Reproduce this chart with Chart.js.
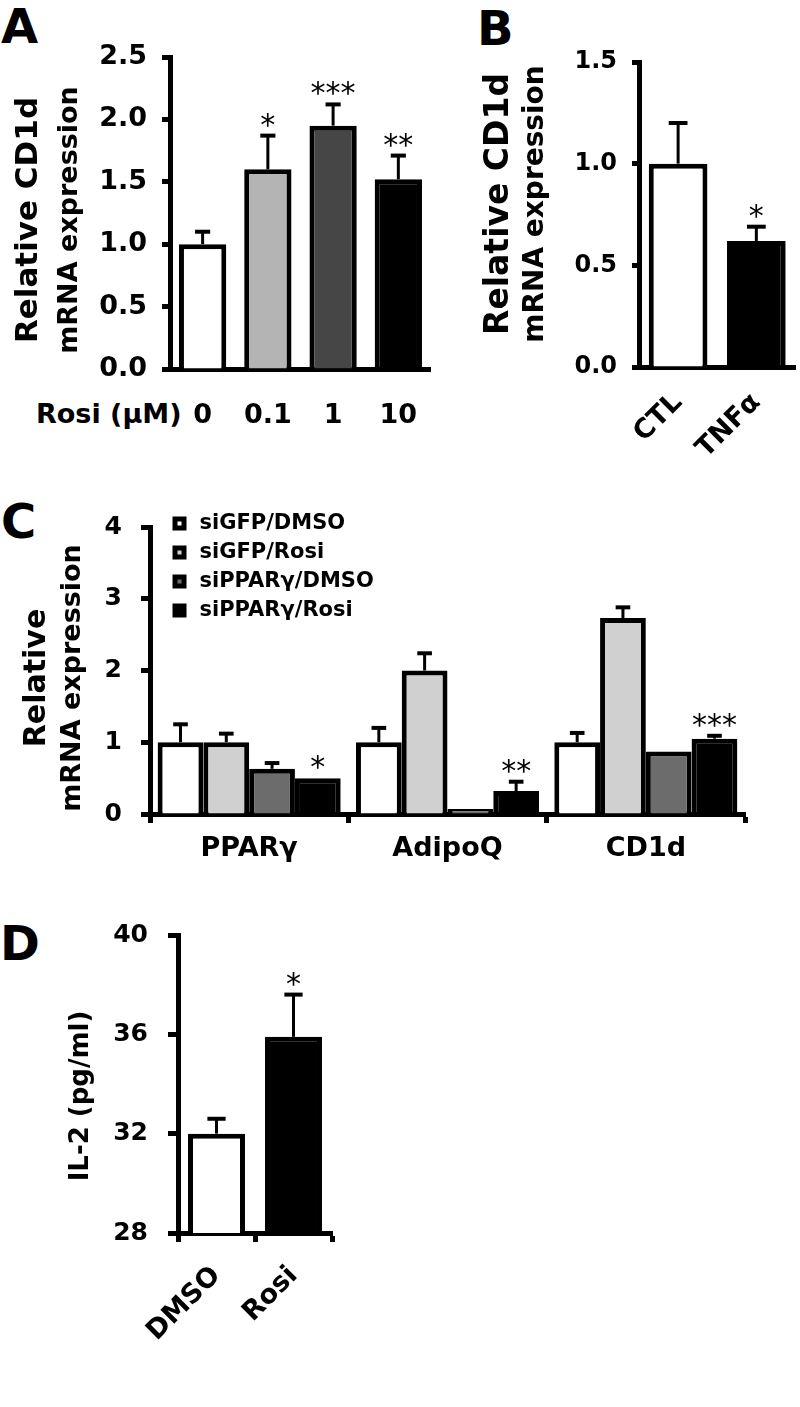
<!DOCTYPE html>
<html>
<head>
<meta charset="utf-8">
<script src="https://cdn.jsdelivr.net/npm/chart.js@4.4.1/dist/chart.umd.min.js"></script>
<style>
  body { margin: 0; background: #fff; }
  #fig { position: relative; width: 800px; height: 1407px; overflow: hidden; font-family: "DejaVu Sans", sans-serif; }
  canvas { position: absolute; }
  .letter { position: absolute; font-weight: bold; font-size: 48px; line-height: 1; }
  .note { position: absolute; font-weight: bold; font-size: 27px; line-height: 1; white-space: nowrap; }
</style>
</head>
<body>
<div id="fig">
  <div class="letter" style="left:1px;top:2px">A</div>
  <div class="letter" style="left:477px;top:4px">B</div>
  <div class="letter" style="left:1px;top:497px">C</div>
  <div class="letter" style="left:0px;top:919px">D</div>
  <div class="note" style="left:36px;top:400px">Rosi (μM)</div>
  <canvas id="chartA" style="left:0;top:0" width="450" height="440"></canvas>
  <canvas id="chartB" style="left:420px;top:0" width="380" height="470"></canvas>
  <canvas id="chartC" style="left:0;top:480px" width="800" height="390"></canvas>
  <canvas id="chartD" style="left:0;top:900px" width="400" height="507"></canvas>
</div>
<script>
// A: CD1d vs rosiglitazone dose
const doseLabels = ["0", "0.1", "1", "10"];
const doseValues = [1.0, 1.6, 1.95, 1.52];
const doseErrors = [0.1, 0.27, 0.17, 0.19];
const doseStars = [0, 1, 3, 2];

// B: CTL vs TNFa
const tnfLabels = ["CTL", "TNFα"];
const tnfValues = [1.0, 0.62];
const tnfErrors = [0.2, 0.07];
const tnfStars = [0, 1];

// C: knockdown
const geneLabels = ["PPARγ", "AdipoQ", "CD1d"];
const groupNames = ["siGFP/DMSO", "siGFP/Rosi", "siPPARγ/DMSO", "siPPARγ/Rosi"];
const gfpDmso = [1.0, 1.0, 1.0];
const gfpDmsoErr = [0.25, 0.2, 0.13];
const gfpRosi = [1.0, 2.0, 2.73];
const gfpRosiErr = [0.12, 0.24, 0.15];
const pparDmso = [0.63, 0.07, 0.87];
const pparDmsoErr = [0.08, 0, 0];
const pparRosi = [0.5, 0.32, 1.05];
const pparRosiErr = [0, 0.13, 0.04];
const pparRosiStars = [1, 2, 3];

// D: IL-2
const il2Labels = ["DMSO", "Rosi"];
const il2Values = [32.0, 35.9];
const il2Errors = [0.6, 1.7];
const il2Stars = [0, 1];

const FONT = "'DejaVu Sans', sans-serif";
const bold = (size) => ({ family: FONT, size: size, weight: "bold" });

// error bars + significance stars drawn on top of the bars
const errorBars = {
  id: "errorBars",
  afterDatasetsDraw(chart) {
    const ctx = chart.ctx;
    const y = chart.scales.y;
    chart.data.datasets.forEach((ds, i) => {
      chart.getDatasetMeta(i).data.forEach((bar, j) => {
        const err = ds.errors[j];
        const top = y.getPixelForValue(ds.data[j] + err);
        ctx.save();
        ctx.strokeStyle = "#000";
        ctx.fillStyle = "#000";
        if (err > 0) {
          const half = bar.width * 0.16;
          ctx.lineWidth = 3;
          ctx.beginPath();
          ctx.moveTo(bar.x, bar.y);
          ctx.lineTo(bar.x, top);
          ctx.stroke();
          ctx.lineWidth = 4;
          ctx.beginPath();
          ctx.moveTo(bar.x - half, top);
          ctx.lineTo(bar.x + half, top);
          ctx.stroke();
        }
        const n = ds.stars ? ds.stars[j] : 0;
        ctx.font = `30px ${FONT}`;
        ctx.textAlign = "center";
        for (let s = 0; s < n; s++) {
          ctx.fillText("*", bar.x + (s - (n - 1) / 2) * 15, top - 1);
        }
        ctx.restore();
      });
    });
  },
};

// two-line rotated y title, each line with its own size
function yTitle(lines, centerY) {
  return {
    id: "yTitle",
    afterDraw(chart) {
      const ctx = chart.ctx;
      lines.forEach(([text, size, x]) => {
        ctx.save();
        ctx.translate(x, centerY);
        ctx.rotate(-Math.PI / 2);
        ctx.font = `bold ${size}px ${FONT}`;
        ctx.fillStyle = "#000";
        ctx.textAlign = "center";
        ctx.textBaseline = "alphabetic";
        ctx.fillText(text, 0, 0);
        ctx.restore();
      });
    },
  };
}

function yAxis(min, max, step, size, tickLen, pad, width, digits) {
  return {
    min: min,
    max: max,
    ticks: {
      stepSize: step,
      color: "#000",
      padding: pad,
      font: bold(size),
      callback: (v) => Number(v).toFixed(digits),
    },
    grid: { drawOnChartArea: false, drawTicks: true, tickLength: tickLen, tickWidth: 5, tickColor: "#000" },
    border: { color: "#000", width: 5 },
    afterFit: (s) => { s.width = width; },
  };
}

function xAxis(size, pad, height, rotation, tickLen) {
  return {
    ticks: { color: "#000", padding: pad, font: bold(size), minRotation: rotation, maxRotation: rotation, autoSkip: false },
    grid: tickLen
      ? { display: true, drawOnChartArea: false, drawTicks: true, tickLength: tickLen, tickWidth: 5, tickColor: "#000" }
      : { display: false, drawTicks: false },
    border: { color: "#000", width: 5 },
    afterFit: (s) => { s.height = height; },
  };
}

const baseOptions = (padding) => ({
  responsive: false,
  animation: false,
  layout: { padding: padding },
  plugins: { legend: { display: false }, tooltip: { enabled: false } },
});

// Panel A
new Chart(document.getElementById("chartA"), {
  type: "bar",
  data: {
    labels: doseLabels,
    datasets: [{
      data: doseValues,
      errors: doseErrors,
      stars: doseStars,
      backgroundColor: ["#ffffff", "#b4b4b4", "#464646", "#000000"],
      borderColor: "#000",
      borderWidth: 5,
      barPercentage: 0.725,
      categoryPercentage: 1,
    }],
  },
  options: {
    ...baseOptions({ top: 57, right: 15, left: 0, bottom: 0 }),
    scales: {
      x: xAxis(27, 31, 71, 0, 0),
      y: yAxis(0, 2.5, 0.5, 27, 8, 15, 170, 1),
    },
  },
  plugins: [errorBars, yTitle([["Relative CD1d", 31, 37], ["mRNA expression", 27, 77]], 220)],
});

// Panel B
new Chart(document.getElementById("chartB"), {
  type: "bar",
  data: {
    labels: tnfLabels,
    datasets: [{
      data: tnfValues,
      errors: tnfErrors,
      stars: tnfStars,
      backgroundColor: ["#ffffff", "#000000"],
      borderColor: "#000",
      borderWidth: 5,
      barPercentage: 0.75,
      categoryPercentage: 1,
    }],
  },
  options: {
    ...baseOptions({ top: 62, right: 3, left: 0, bottom: 0 }),
    scales: {
      x: xAxis(27, 20, 103, 45, 0),
      y: yAxis(0, 1.5, 0.5, 24, 7, 15, 219, 1),
    },
  },
  plugins: [errorBars, yTitle([["Relative CD1d", 33, 88], ["mRNA expression", 28, 123]], 204)],
});

// Panel C
const cStyle = { borderColor: "#000", borderWidth: 5, barPercentage: 1, categoryPercentage: 0.923 };
new Chart(document.getElementById("chartC"), {
  type: "bar",
  data: {
    labels: geneLabels,
    datasets: [
      { label: groupNames[0], data: gfpDmso, errors: gfpDmsoErr, backgroundColor: "#ffffff", ...cStyle },
      { label: groupNames[1], data: gfpRosi, errors: gfpRosiErr, backgroundColor: "#d0d0d0", ...cStyle },
      { label: groupNames[2], data: pparDmso, errors: pparDmsoErr, backgroundColor: "#6c6c6c", ...cStyle },
      { label: groupNames[3], data: pparRosi, errors: pparRosiErr, stars: pparRosiStars, backgroundColor: "#000000", ...cStyle },
    ],
  },
  options: {
    ...baseOptions({ top: 47, right: 55, left: 0, bottom: 0 }),
    plugins: {
      tooltip: { enabled: false },
      legend: {
        display: true,
        position: "chartArea",
        align: "start",
        labels: {
          usePointStyle: true,
          pointStyle: "rect",
          boxWidth: 19,
          boxHeight: 9,
          padding: 8,
          color: "#000",
          font: bold(21),
        },
      },
    },
    scales: {
      x: xAxis(27, 10, 56, 0, 9),
      y: yAxis(0, 4, 1, 25, 9, 19, 150, 0),
    },
  },
  plugins: [
    errorBars,
    yTitle([["Relative", 30, 45], ["mRNA expression", 27, 80]], 198),
    {
      id: "legendSpot",
      afterLayout(chart) {
        chart.legend.left = 162;
        chart.legend.top = 25;
      },
    },
  ],
});

// Panel D
new Chart(document.getElementById("chartD"), {
  type: "bar",
  data: {
    labels: il2Labels,
    datasets: [{
      data: il2Values,
      errors: il2Errors,
      stars: il2Stars,
      backgroundColor: ["#ffffff", "#000000"],
      borderColor: "#000",
      borderWidth: 5,
      barPercentage: 0.74,
      categoryPercentage: 1,
    }],
  },
  options: {
    ...baseOptions({ top: 32, right: 68, left: 0, bottom: 0 }),
    scales: {
      x: xAxis(27, 18, 174, 45, 9),
      y: yAxis(28, 40, 4, 25, 10, 20, 178, 0),
    },
  },
  plugins: [errorBars, yTitle([["IL-2 (pg/ml)", 26, 88]], 196)],
});
</script>
</body>
</html>
